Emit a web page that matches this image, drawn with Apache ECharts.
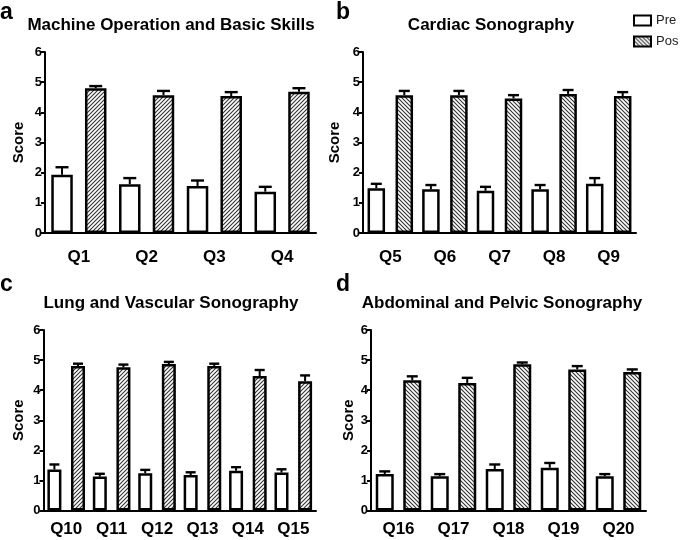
<!DOCTYPE html>
<html>
<head>
<meta charset="utf-8">
<script src="https://cdn.jsdelivr.net/npm/echarts@6/dist/echarts.min.js"></script>
<style>
html,body{margin:0;padding:0;background:#fff;}
#chart{width:685px;height:540px;}
</style>
</head>
<body>
<div id="chart"></div>
<script>
// ---- data ----
const catsA = ['Q1','Q2','Q3','Q4'];
const preA  = [1.93, 1.62, 1.56, 1.37];
const preErrA = [0.25, 0.20, 0.18, 0.16];
const posA  = [4.80, 4.57, 4.54, 4.68];
const posErrA = [0.07, 0.14, 0.13, 0.12];

const catsB = ['Q5','Q6','Q7','Q8','Q9'];
const preB  = [1.48, 1.45, 1.40, 1.45, 1.63];
const preErrB = [0.15, 0.14, 0.13, 0.14, 0.19];
const posB  = [4.57, 4.57, 4.46, 4.61, 4.54];
const posErrB = [0.14, 0.14, 0.11, 0.13, 0.13];

const catsC = ['Q10','Q11','Q12','Q13','Q14','Q15'];
const preC  = [1.36, 1.13, 1.24, 1.18, 1.32, 1.26];
const preErrC = [0.17, 0.09, 0.11, 0.09, 0.12, 0.11];
const posC  = [4.80, 4.76, 4.87, 4.80, 4.47, 4.30];
const posErrC = [0.08, 0.09, 0.07, 0.08, 0.20, 0.19];

const catsD = ['Q16','Q17','Q18','Q19','Q20'];
const preD  = [1.21, 1.14, 1.38, 1.42, 1.14];
const preErrD = [0.09, 0.07, 0.15, 0.16, 0.07];
const posD  = [4.33, 4.24, 4.86, 4.69, 4.60];
const posErrD = [0.13, 0.17, 0.06, 0.11, 0.09];

const yTicks = [0,1,2,3,4,5,6];
const panelTitles = ['Machine Operation and Basic Skills','Cardiac Sonography','Lung and Vascular Sonography','Abdominal and Pelvic Sonography'];
const panelLetters = ['a','b','c','d'];
const seriesNames = ['Pre','Pos'];

// ---- hatch patterns ----
function makeHatch(dir){
  const s = 4;
  const c = document.createElement('canvas');
  c.width = s; c.height = s;
  const g = c.getContext('2d');
  g.fillStyle = '#fff'; g.fillRect(0,0,s,s);
  g.strokeStyle = '#333'; g.lineWidth = 1.1;
  g.beginPath();
  if (dir === '/') {
    g.moveTo(-1, s+1); g.lineTo(s+1, -1);
    g.moveTo(-1, 1); g.lineTo(1, -1);
    g.moveTo(s-1, s+1); g.lineTo(s+1, s-1);
  } else {
    g.moveTo(-1, -1); g.lineTo(s+1, s+1);
    g.moveTo(s-1, -1); g.lineTo(s+1, 1);
    g.moveTo(-1, s-1); g.lineTo(1, s+1);
  }
  g.stroke();
  return {image: c, repeat: 'repeat'};
}
const hatchFwd = makeHatch('/');
const hatchBack = makeHatch('\\');

const panels = [
  {cats:catsA, pre:preA, preErr:preErrA, pos:posA, posErr:posErrA, grid:{left:45, top:52, width:271, height:181}, barW:21.5, gap:12.2, cap:13, hatch:hatchFwd, nameGap:19, lblMargin:16},
  {cats:catsB, pre:preB, preErr:preErrB, pos:posB, posErr:posErrB, grid:{left:363, top:52, width:273, height:181}, barW:17.5, gap:10.5, cap:11, hatch:hatchBack, nameGap:21, lblMargin:16},
  {cats:catsC, pre:preC, preErr:preErrC, pos:posC, posErr:posErrC, grid:{left:43.5, top:330, width:272.5, height:180.5}, barW:14, gap:9.6, cap:10, hatch:hatchFwd, nameGap:17, lblMargin:10},
  {cats:catsD, pre:preD, preErr:preErrD, pos:posD, posErr:posErrD, grid:{left:371, top:330, width:275, height:180.5}, barW:18, gap:9.5, cap:11, hatch:hatchBack, nameGap:15, lblMargin:10}
];
const titlePos = [
  {lx:0, ly:1, tx:171, ty:25},
  {lx:336, ly:1, tx:491, ty:25},
  {lx:0, ly:273, tx:171, ty:303},
  {lx:336, ly:273, tx:502, ty:303}
];

const FONT = 'Liberation Sans, Arial, Helvetica, sans-serif';
const grids = [], xAxes = [], yAxes = [], series = [], graphics = [];

function errRender(offset, capW){
  return function(params, api){
    const ci = api.value(0), m = api.value(1), e = api.value(2);
    const p0 = api.coord([ci, m]);
    const p1 = api.coord([ci, m + e]);
    const x = p0[0] + offset;
    return {
      type: 'group',
      children: [
        {type:'line', shape:{x1:x, y1:p0[1], x2:x, y2:p1[1]}, style:{stroke:'#000', lineWidth:2}},
        {type:'line', shape:{x1:x-capW/2, y1:p1[1], x2:x+capW/2, y2:p1[1]}, style:{stroke:'#000', lineWidth:2.4}}
      ]
    };
  };
}

panels.forEach((p, i) => {
  grids.push(Object.assign({containLabel:false}, p.grid));
  xAxes.push({
    type:'category', gridIndex:i, data:p.cats,
    axisLine:{lineStyle:{color:'#000', width:2}},
    axisTick:{show:false},
    axisLabel:{color:'#000', fontFamily:FONT, fontWeight:'bold', fontSize:17, margin:p.lblMargin}
  });
  yAxes.push({
    type:'value', gridIndex:i, min:0, max:6, interval:1,
    name:'Score', nameLocation:'middle', nameRotate:90, nameGap:p.nameGap,
    nameTextStyle:{color:'#000', fontFamily:FONT, fontWeight:'bold', fontSize:15},
    axisLine:{show:true, lineStyle:{color:'#000', width:2}},
    axisTick:{show:true, length:4, lineStyle:{color:'#000', width:2}},
    axisLabel:{color:'#000', fontFamily:FONT, fontWeight:'bold', fontSize:13, margin:3,
      formatter: v => yTicks.indexOf(v) >= 0 ? String(v) : ''},
    splitLine:{show:false}
  });
  const gapPct = (p.gap / p.barW * 100).toFixed(1) + '%';
  series.push({
    name:seriesNames[0], type:'bar', xAxisIndex:i, yAxisIndex:i, data:p.pre,
    barWidth:p.barW, barGap:gapPct,
    itemStyle:{color:'#fff', borderColor:'#000', borderWidth:2.5},
    emphasis:{disabled:true}, animation:false
  });
  series.push({
    name:seriesNames[1], type:'bar', xAxisIndex:i, yAxisIndex:i, data:p.pos,
    barWidth:p.barW, barGap:gapPct,
    itemStyle:{color:p.hatch, borderColor:'#000', borderWidth:2.5},
    emphasis:{disabled:true}, animation:false
  });
  const off = (p.barW + p.gap) / 2;
  series.push({
    type:'custom', xAxisIndex:i, yAxisIndex:i, z:5, animation:false,
    data:p.pre.map((v,k)=>[k, v, p.preErr[k]]),
    renderItem: errRender(-off, p.cap), silent:true
  });
  series.push({
    type:'custom', xAxisIndex:i, yAxisIndex:i, z:5, animation:false,
    data:p.pos.map((v,k)=>[k, v, p.posErr[k]]),
    renderItem: errRender(off, p.cap), silent:true
  });
  const tp = titlePos[i];
  graphics.push({type:'text', left:tp.lx, top:tp.ly, style:{text:panelLetters[i], font:'bold 23px '+FONT, fill:'#000'}});
  graphics.push({type:'text', x:tp.tx, y:tp.ty, style:{text:panelTitles[i], font:'bold 17px '+FONT, fill:'#000', textAlign:'center', textVerticalAlign:'middle'}});
});

const chart = echarts.init(document.getElementById('chart'), null, {renderer:'canvas'});
chart.setOption({
  backgroundColor:'#fff',
  animation:false,
  grid:grids, xAxis:xAxes, yAxis:yAxes, series:series,
  legend:{
    left:628, top:9, orient:'vertical', itemWidth:17, itemHeight:10, itemGap:8,
    textStyle:{color:'#222', fontFamily:FONT, fontSize:13},
    data:[
      {name:'Pre', icon:'rect', itemStyle:{color:'#fff', borderColor:'#000', borderWidth:2}},
      {name:'Pos', icon:'rect', itemStyle:{color:hatchBack, borderColor:'#000', borderWidth:2}}
    ],
    selectedMode:false
  },
  graphic:graphics
});
</script>
</body>
</html>
